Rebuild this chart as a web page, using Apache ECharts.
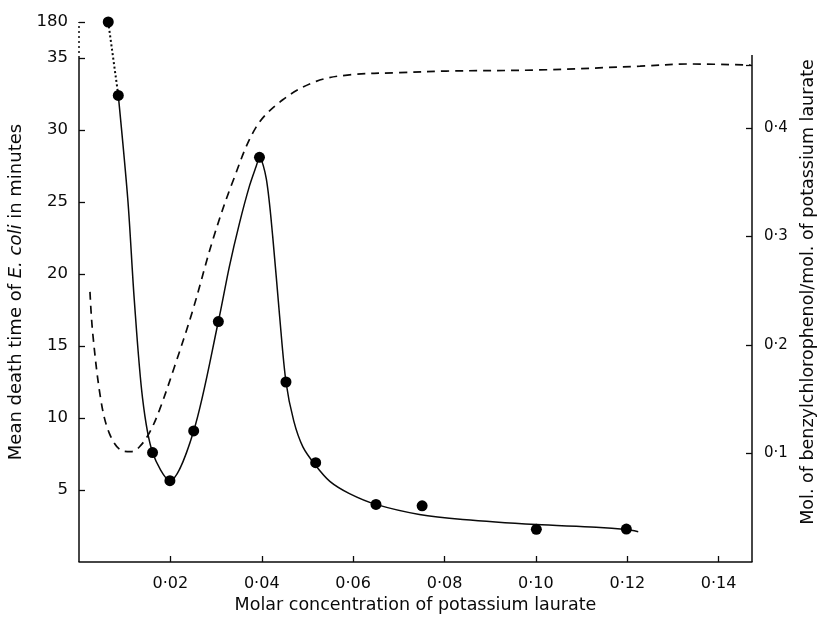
<!DOCTYPE html>
<html>
<head>
<meta charset="utf-8">
<script src="https://cdn.jsdelivr.net/npm/echarts@6/dist/echarts.min.js"></script>
<style>
  html, body { margin: 0; padding: 0; background: #fff; }
  #main { width: 819px; height: 628px; }
</style>
</head>
<body>
<div id="main"></div>
<script>
// measured points: concentration (M) vs mean death time (min)
var conc = [0.0064, 0.0086, 0.0161, 0.0199, 0.0251, 0.0305, 0.0395, 0.0453, 0.0518, 0.065, 0.0751, 0.1001, 0.1198];
var deathTime = [180, 32.4, 7.6, 5.65, 9.1, 16.7, 28.1, 12.5, 6.9, 4.0, 3.9, 2.27, 2.29];

// fitted solid curve
var curveX = [0.0086, 0.0107, 0.0121, 0.0139, 0.0161, 0.0199, 0.0251, 0.0305, 0.0329, 0.0351, 0.0373, 0.0388, 0.0395,
              0.0410, 0.0424, 0.0439, 0.0453, 0.0470, 0.0490, 0.0518, 0.0549, 0.0592, 0.065, 0.0745, 0.084, 0.1001, 0.1132, 0.1198, 0.1224];
var curveY = [32.4, 25.1, 18.2, 11.4, 7.6, 5.65, 9.1, 16.7, 20.5, 23.5, 26.1, 27.5, 28.1,
              26.6, 22.6, 17.1, 12.5, 9.8, 8.0, 6.7, 5.6, 4.75, 4.0, 3.3, 2.95, 2.6, 2.42, 2.25, 2.1];

// dashed curve: mol benzylchlorophenol / mol potassium laurate
var ratioX = [0.0024, 0.0030, 0.0048, 0.0066, 0.0092, 0.0114, 0.0132, 0.0154, 0.0176, 0.0209, 0.0249, 0.0293, 0.0336,
              0.0388, 0.0446, 0.0519, 0.0592, 0.0702, 0.0804, 0.1008, 0.1228, 0.1337, 0.1470];
var ratioY = [0.249, 0.211, 0.149, 0.119, 0.103, 0.1017, 0.106, 0.119, 0.140, 0.180, 0.232, 0.297, 0.350,
              0.401, 0.426, 0.443, 0.449, 0.451, 0.4525, 0.4535, 0.457, 0.459, 0.458];

var xTicks = [0.02, 0.04, 0.06, 0.08, 0.10, 0.12, 0.14];
var leftTicks = [5, 10, 15, 20, 25, 30, 35];
var rightTicks = [0.1, 0.2, 0.3, 0.4];

// left axis is broken above 35: the 180 value sits at the top of the axis
var BREAK_AT = 35, BREAK_POS = 37.5, XMAX = 0.1473, RMAX = 0.4977;
function brk(v) { return v > BREAK_AT ? BREAK_POS : v; }
function dot(v, d) { return v.toFixed(d).replace('.', '\u00b7'); }
function pairs(xs, ys) { return xs.map(function (x, i) { return [x, ys[i]]; }); }

var FONT = 'DejaVu Sans';
var ink = '#0a0a0a';

var chart = echarts.init(document.getElementById('main'), null, { renderer: 'canvas' });

var option = {
    backgroundColor: '#fff',
    animation: false,
    grid: { left: 79, right: 67, top: 22, bottom: 66, outerBoundsMode: 'none', containLabel: false },
    textStyle: { fontFamily: FONT, color: ink },
    xAxis: {
        type: 'value', min: 0, max: XMAX,
        name: 'Molar concentration of potassium laurate',
        nameLocation: 'middle', nameGap: 31,
        nameTextStyle: { fontFamily: FONT, fontSize: 17.5, color: ink },
        axisLine: { show: true, lineStyle: { color: ink, width: 1.5 } },
        axisTick: { show: true, inside: true, length: 6, lineStyle: { color: ink, width: 1.3 }, customValues: xTicks },
        axisLabel: { fontFamily: FONT, fontSize: 16, color: ink, margin: 14, customValues: xTicks,
            formatter: function (v) { return dot(v, 2); } },
        splitLine: { show: false }
    },
    yAxis: [{
        type: 'value', min: 0, max: BREAK_POS, position: 'left',
        name: '{n|Mean death time of }{i|E. coli}{n| in minutes}',
        nameLocation: 'middle', nameGap: 53,
        nameTextStyle: { rich: {
            n: { fontFamily: FONT, fontSize: 18, color: ink },
            i: { fontFamily: FONT, fontSize: 18, color: ink, fontStyle: 'italic' }
        } },
        axisLine: { show: false },
        axisTick: { show: true, inside: true, length: 6, lineStyle: { color: ink, width: 1.3 }, customValues: leftTicks.concat([BREAK_POS]) },
        axisLabel: { fontFamily: FONT, fontSize: 16.5, color: ink, margin: 11, customValues: leftTicks.concat([BREAK_POS]),
            formatter: function (v) { return v === BREAK_POS ? '180' : String(v); } },
        splitLine: { show: false }
    }, {
        type: 'value', min: 0, max: RMAX, position: 'right',
        name: 'Mol. of benzylchlorophenol/mol. of potassium laurate',
        nameLocation: 'middle', nameGap: 47, nameRotate: 90,
        nameTextStyle: { fontFamily: FONT, fontSize: 17.5, color: ink },
        axisLine: { show: false },
        axisTick: { show: true, inside: true, length: 6, lineStyle: { color: ink, width: 1.3 }, customValues: rightTicks.concat([0.458]) },
        axisLabel: { fontFamily: FONT, fontSize: 15, color: ink, margin: 12, customValues: rightTicks,
            formatter: function (v) { return dot(v, 1); } },
        splitLine: { show: false }
    }],
    series: [{
        // axis lines, drawn in data coordinates so the break can be dotted
        name: 'axes', type: 'line', data: [], yAxisIndex: 0, silent: true,
        markLine: {
            symbol: 'none', silent: true, label: { show: false },
            lineStyle: { color: ink, width: 1.5, type: 'solid' },
            data: [
                [{ coord: [0, 0] }, { coord: [0, BREAK_AT] }],
                [{ coord: [0, BREAK_AT], lineStyle: { type: [2, 3], width: 1.5 } }, { coord: [0, BREAK_POS] }],
                [{ coord: [XMAX, 0] }, { coord: [XMAX, 35.2] }]
            ]
        }
    }, {
        name: 'ratio', type: 'line', yAxisIndex: 1, data: pairs(ratioX, ratioY),
        smooth: 0.35, showSymbol: false, symbol: 'none',
        lineStyle: { color: ink, width: 1.7, type: [8, 6] }
    }, {
        name: 'fit', type: 'line', yAxisIndex: 0, data: pairs(curveX, curveY),
        smooth: 0.3, showSymbol: false, symbol: 'none',
        lineStyle: { color: ink, width: 1.5 }
    }, {
        name: 'break link', type: 'line', yAxisIndex: 0,
        data: [[conc[0], brk(deathTime[0])], [conc[1], brk(deathTime[1])]],
        showSymbol: false, symbol: 'none',
        lineStyle: { color: ink, width: 2, type: [2, 2.5] }
    }, {
        name: 'points', type: 'scatter', yAxisIndex: 0, z: 5,
        data: conc.map(function (x, i) { return [x, brk(deathTime[i])]; }),
        symbol: 'circle', symbolSize: 11,
        itemStyle: { color: '#000', opacity: 1 }
    }]
};

chart.setOption(option);
</script>
</body>
</html>
